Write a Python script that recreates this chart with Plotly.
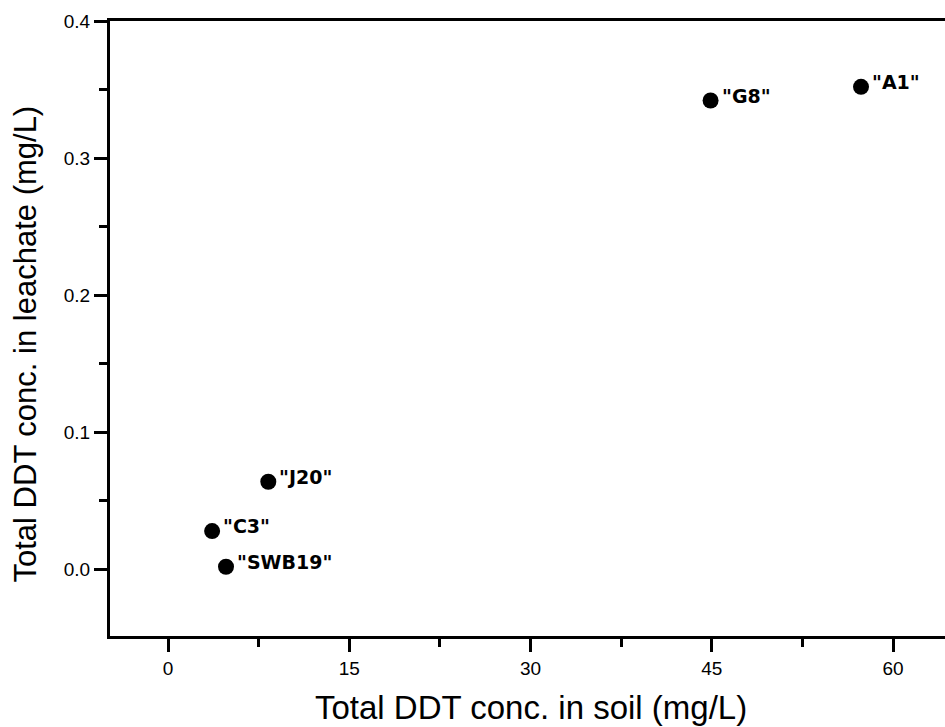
import plotly.graph_objects as go

# Sample sites: total DDT in soil vs. in leachate
sites = ['"C3"', '"SWB19"', '"J20"', '"G8"', '"A1"']
soil_ddt = [3.65, 4.8, 8.3, 44.9, 57.35]
leachate_ddt = [0.028, 0.002, 0.064, 0.342, 0.352]

x_ticks = [0, 15, 30, 45, 60]
y_ticks = [0.0, 0.1, 0.2, 0.3, 0.4]

FONT = "Liberation Sans, Arial, Helvetica, sans-serif"
LABEL_FONT = "DejaVu Sans, Liberation Sans, Arial, sans-serif"

fig = go.Figure()
fig.add_trace(go.Scatter(
    x=soil_ddt, y=leachate_ddt, mode="markers",
    marker=dict(size=16, color="black", line=dict(width=0)),
    showlegend=False, hoverinfo="skip",
))

# Site names beside each point
for name, xv, yv in zip(sites, soil_ddt, leachate_ddt):
    fig.add_annotation(
        x=xv, y=yv, text=f"<b>{name}</b>", showarrow=False,
        xanchor="left", yanchor="middle", xshift=9, yshift=5,
        font=dict(family=LABEL_FONT, size=19, color="black"),
    )

axis_common = dict(
    showline=True, linecolor="black", linewidth=3,
    ticks="outside", tickwidth=3, tickcolor="black", ticklen=13,
    showgrid=False, zeroline=False,
    tickfont=dict(family=FONT, size=19, color="black"),
)

fig.update_xaxes(
    range=[-4.8, 64.3], tickvals=x_ticks, ticktext=[str(v) for v in x_ticks],
    mirror=True,
    minor=dict(ticks="outside", ticklen=8, tickwidth=3, tickcolor="black", dtick=7.5, tick0=0),
    **axis_common,
)
fig.update_yaxes(
    range=[-0.0485, 0.4], tickvals=y_ticks, ticktext=[f"{v:.1f}" for v in y_ticks],
    minor=dict(ticks="outside", ticklen=8, tickwidth=3, tickcolor="black", dtick=0.05, tick0=0),
    **axis_common,
)

# Axis titles
fig.add_annotation(
    text="Total DDT conc. in soil (mg/L)", xref="paper", yref="paper",
    x=0.504, y=0, xanchor="center", yanchor="middle", yshift=-71,
    showarrow=False, font=dict(family=FONT, size=33, color="black"),
)
fig.add_annotation(
    text="Total DDT conc. in leachate (mg/L)", xref="paper", yref="paper",
    x=0, y=0.474, xanchor="center", yanchor="middle", xshift=-85, textangle=-90,
    showarrow=False, font=dict(family=FONT, size=31, color="black"),
)

fig.update_layout(
    width=945, height=727,
    margin=dict(l=110, r=0, t=21, b=91),
    plot_bgcolor="white", paper_bgcolor="white",
)

fig.write_html("out.html")
